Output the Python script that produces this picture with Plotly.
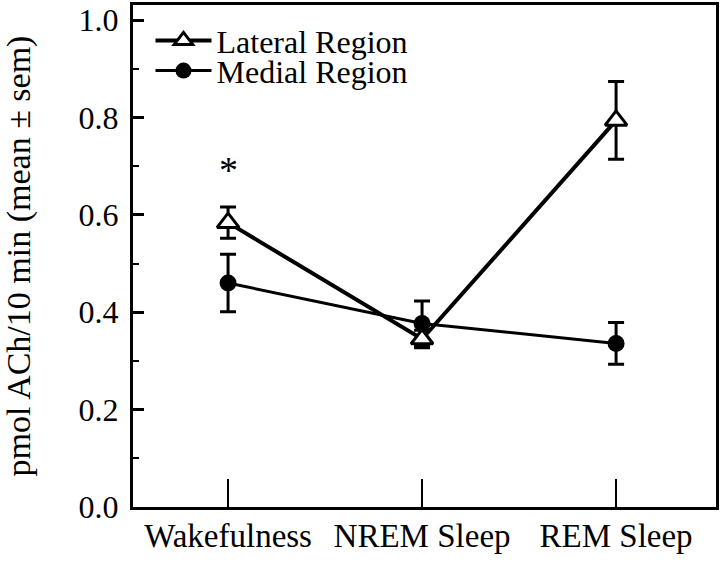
import plotly.graph_objects as go

categories = ["Wakefulness", "NREM Sleep", "REM Sleep"]
x_pos = [0, 1, 2]
lateral_mean = [0.584, 0.345, 0.794]
lateral_sem = [0.032, 0.018, 0.080]
medial_mean = [0.460, 0.377, 0.336]
medial_sem = [0.059, 0.046, 0.043]
y_ticks = [0.0, 0.2, 0.4, 0.6, 0.8, 1.0]
y_tick_labels = ["0.0", "0.2", "0.4", "0.6", "0.8", "1.0"]
star_pos = (0, 0.645)

FONT = "Liberation Serif, Times New Roman, serif"

fig = go.Figure()
fig.add_trace(go.Scatter(
    x=x_pos, y=medial_mean, name="Medial Region", mode="lines+markers",
    line=dict(color="black", width=3),
    marker=dict(symbol="circle", size=17, color="black"),
    error_y=dict(type="data", array=medial_sem, color="black", thickness=3, width=8),
    legend="legend2",
))
fig.add_trace(go.Scatter(
    x=x_pos, y=lateral_mean, name="Lateral Region", mode="lines+markers",
    line=dict(color="black", width=4),
    marker=dict(symbol="triangle-up", size=19, color="white", line=dict(color="black", width=3)),
    error_y=dict(type="data", array=lateral_sem, color="black", thickness=3, width=8),
    legend="legend",
))

fig.add_annotation(x=star_pos[0], y=star_pos[1], text="*", showarrow=False,
                   font=dict(family=FONT, size=38, color="black"), yanchor="bottom")

leg_common = dict(xanchor="left", yanchor="middle",
                  font=dict(family=FONT, size=32, color="black"),
                  bgcolor="rgba(0,0,0,0)", itemwidth=56)

fig.update_layout(
    width=720, height=567,
    margin=dict(l=133, r=4, t=5, b=60),
    paper_bgcolor="white", plot_bgcolor="white",
    font=dict(family=FONT, color="black"),
    showlegend=True,
    legend=dict(x=0.03, y=0.929, **leg_common),
    legend2=dict(x=0.03, y=0.869, **leg_common),
    xaxis=dict(range=[-0.49, 2.515], tickvals=x_pos, ticktext=categories,
               showline=True, linecolor="black", linewidth=3, mirror=True,
               ticks="inside", ticklen=28, tickwidth=2, tickcolor="black",
               showgrid=False, zeroline=False, ticklabelstandoff=-3, automargin=False,
               tickfont=dict(family=FONT, size=33, color="black")),
    yaxis=dict(range=[0, 1.031], tickvals=y_ticks, ticktext=y_tick_labels,
               showline=True, linecolor="black", linewidth=3, mirror=True,
               ticks="inside", ticklen=11, tickwidth=3, tickcolor="black",
               minor=dict(dtick=0.1, tick0=0, ticks="inside", ticklen=6, tickwidth=2, tickcolor="black"),
               showgrid=False, zeroline=False, ticklabelstandoff=5, automargin=False,
               tickfont=dict(family=FONT, size=32, color="black"),
               title=dict(text="pmol ACh/10 min (mean ± sem)", standoff=48,
                          font=dict(family=FONT, size=34, color="black"))),
)

fig.write_html("out.html", config={"displayModeBar": False},
               post_script="document.body.style.margin='0';document.body.style.padding='0';")
